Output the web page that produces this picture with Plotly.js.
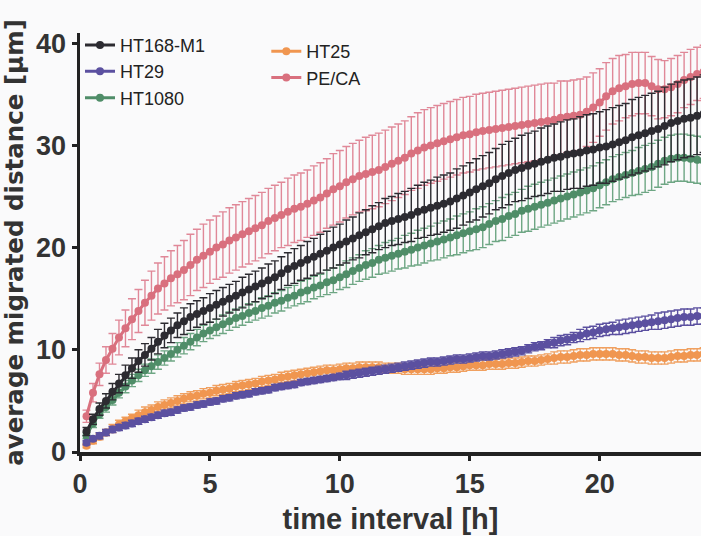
<!DOCTYPE html>
<html>
<head>
<meta charset="utf-8">
<script src="https://cdn.plot.ly/plotly-3.0.1.min.js"></script>
<style>html,body{margin:0;padding:0;background:#fafafb;}#chart{width:701px;height:536px;}</style>
</head>
<body>
<div id="chart"></div>
<script>
// time points [h]
const timeH = [
  0.25,0.5,0.75,1,1.25,1.5,1.75,2,
  2.25,2.5,2.75,3,3.25,3.5,3.75,4,
  4.25,4.5,4.75,5,5.25,5.5,5.75,6,
  6.25,6.5,6.75,7,7.25,7.5,7.75,8,
  8.25,8.5,8.75,9,9.25,9.5,9.75,10,
  10.25,10.5,10.75,11,11.25,11.5,11.75,12,
  12.25,12.5,12.75,13,13.25,13.5,13.75,14,
  14.25,14.5,14.75,15,15.25,15.5,15.75,16,
  16.25,16.5,16.75,17,17.25,17.5,17.75,18,
  18.25,18.5,18.75,19,19.25,19.5,19.75,20,
  20.25,20.5,20.75,21,21.25,21.5,21.75,22,
  22.25,22.5,22.75,23,23.25,23.5,23.75,24
];

const seriesNames = ["HT168-M1", "HT29", "HT1080", "HT25", "PE/CA"];

// PE/CA
const pecaMean = [
  3.5,5.8,7.6,9.0,10.1,11.2,12.1,13.0,
  13.8,14.6,15.3,16.0,16.5,17.0,17.4,17.8,
  18.3,18.8,19.2,19.6,20.0,20.3,20.7,21.0,
  21.3,21.6,21.9,22.2,22.6,22.9,23.2,23.5,
  23.8,24.0,24.3,24.6,24.9,25.3,25.7,26.0,
  26.4,26.7,27.0,27.2,27.4,27.6,27.9,28.2,
  28.5,28.8,29.2,29.5,29.8,30.0,30.2,30.4,
  30.6,30.8,31.0,31.1,31.3,31.4,31.5,31.6,
  31.7,31.8,31.9,32.0,32.1,32.2,32.3,32.4,
  32.5,32.7,32.8,32.9,33.0,33.3,33.7,34.2,
  34.8,35.3,35.6,35.8,36.0,36.1,36.1,35.8,
  35.5,35.5,35.7,36.0,36.4,36.7,37.0,37.2
];
const pecaErr = [
  0.6,0.9,1.1,1.3,1.5,1.7,1.8,2.0,
  2.1,2.2,2.4,2.5,2.6,2.7,2.8,2.9,
  3.0,3.0,3.1,3.1,3.1,3.2,3.2,3.2,
  3.2,3.2,3.2,3.2,3.2,3.2,3.2,3.3,
  3.3,3.3,3.3,3.4,3.4,3.4,3.5,3.5,
  3.5,3.5,3.5,3.6,3.6,3.6,3.6,3.6,
  3.6,3.6,3.6,3.7,3.7,3.7,3.7,3.7,
  3.7,3.7,3.7,3.7,3.7,3.7,3.7,3.7,
  3.7,3.7,3.7,3.7,3.7,3.7,3.7,3.7,
  3.6,3.6,3.5,3.5,3.5,3.4,3.4,3.3,
  3.3,3.2,3.2,3.1,3.1,3.0,3.0,2.9,
  2.9,2.8,2.8,2.8,2.7,2.7,2.6,2.6
];

// HT168-M1
const ht168Mean = [
  2.0,3.2,4.2,5.0,5.9,6.7,7.5,8.2,
  8.9,9.5,10.1,10.8,11.4,11.9,12.4,12.8,
  13.2,13.5,13.8,14.1,14.4,14.7,15.0,15.3,
  15.6,15.9,16.2,16.5,16.8,17.1,17.5,17.9,
  18.2,18.5,18.8,19.1,19.4,19.7,20.0,20.3,
  20.6,20.9,21.2,21.5,21.8,22.1,22.4,22.6,
  22.8,23.0,23.2,23.5,23.7,23.9,24.1,24.3,
  24.5,24.8,25.1,25.4,25.7,26.0,26.3,26.7,
  27.0,27.3,27.6,27.8,28.0,28.2,28.4,28.6,
  28.8,28.9,29.1,29.2,29.3,29.5,29.6,29.8,
  29.9,30.1,30.3,30.5,30.8,31.0,31.2,31.4,
  31.6,31.9,32.2,32.4,32.6,32.7,32.9,33.1
];
const ht168Err = [
  0.4,0.5,0.6,0.7,0.8,0.9,1.0,1.0,
  1.1,1.1,1.1,1.2,1.2,1.2,1.2,1.3,
  1.3,1.3,1.3,1.4,1.4,1.4,1.4,1.4,
  1.5,1.5,1.5,1.5,1.6,1.6,1.6,1.6,
  1.7,1.7,1.8,1.8,1.9,1.9,2.0,2.0,
  2.1,2.1,2.2,2.2,2.3,2.3,2.4,2.4,
  2.5,2.5,2.6,2.6,2.7,2.7,2.8,2.8,
  2.8,2.9,2.9,2.9,3.0,3.0,3.0,3.0,
  3.1,3.1,3.1,3.2,3.2,3.2,3.3,3.3,
  3.3,3.4,3.4,3.4,3.5,3.5,3.5,3.5,
  3.6,3.6,3.6,3.6,3.7,3.7,3.7,3.7,
  3.7,3.8,3.8,3.8,3.8,3.8,3.8,3.8
];

// HT1080
const ht1080Mean = [
  1.6,2.8,3.7,4.4,5.1,5.8,6.4,7.0,
  7.5,8.0,8.4,8.8,9.2,9.6,10.0,10.4,
  10.8,11.2,11.6,11.9,12.2,12.5,12.8,13.1,
  13.3,13.6,13.8,14.1,14.3,14.6,14.8,15.1,
  15.3,15.6,15.8,16.1,16.3,16.6,16.8,17.1,
  17.4,17.7,18.0,18.3,18.5,18.8,19.0,19.2,
  19.4,19.6,19.8,20.0,20.2,20.4,20.6,20.8,
  21.0,21.2,21.4,21.6,21.8,22.0,22.3,22.6,
  22.8,23.1,23.3,23.6,23.8,24.0,24.2,24.4,
  24.6,24.8,25.0,25.2,25.4,25.6,25.8,26.1,
  26.4,26.7,26.9,27.1,27.3,27.5,27.7,27.9,
  28.2,28.5,28.7,28.8,28.8,28.7,28.6,28.5
];
const ht1080Err = [
  0.3,0.4,0.4,0.5,0.5,0.5,0.6,0.6,
  0.6,0.6,0.7,0.7,0.7,0.7,0.7,0.8,
  0.8,0.8,0.8,0.8,0.8,0.9,0.9,0.9,
  0.9,0.9,0.9,1.0,1.0,1.0,1.0,1.0,
  1.0,1.1,1.1,1.1,1.1,1.2,1.2,1.2,
  1.3,1.3,1.3,1.4,1.4,1.4,1.5,1.5,
  1.5,1.6,1.6,1.7,1.7,1.7,1.8,1.8,
  1.8,1.9,1.9,1.9,2.0,2.0,2.0,2.0,
  2.1,2.1,2.1,2.1,2.2,2.2,2.2,2.2,
  2.2,2.2,2.2,2.2,2.2,2.2,2.2,2.2,
  2.2,2.2,2.2,2.2,2.2,2.3,2.3,2.3,
  2.3,2.3,2.3,2.3,2.3,2.3,2.3,2.3
];

// HT29
const ht29Mean = [
  0.9,1.3,1.6,1.9,2.2,2.4,2.6,2.8,
  3.0,3.2,3.4,3.6,3.8,3.9,4.1,4.3,
  4.4,4.6,4.7,4.9,5.0,5.2,5.3,5.5,
  5.6,5.7,5.9,6.0,6.1,6.3,6.4,6.5,
  6.6,6.8,6.9,7.0,7.1,7.2,7.3,7.4,
  7.5,7.6,7.7,7.8,7.9,8.0,8.1,8.2,
  8.3,8.4,8.5,8.6,8.7,8.8,8.8,8.9,
  9.0,9.1,9.1,9.2,9.3,9.4,9.4,9.5,
  9.6,9.7,9.8,9.9,10.1,10.3,10.4,10.6,
  10.7,10.9,11.0,11.2,11.4,11.6,11.7,11.9,
  12.0,12.1,12.2,12.3,12.4,12.5,12.6,12.7,
  12.8,12.9,13.0,13.1,13.2,13.2,13.3,13.3
];
const ht29Err = [
  0.2,0.2,0.3,0.3,0.3,0.3,0.3,0.3,
  0.3,0.3,0.3,0.3,0.3,0.3,0.3,0.3,
  0.3,0.3,0.3,0.3,0.3,0.3,0.3,0.3,
  0.3,0.3,0.3,0.3,0.3,0.3,0.3,0.3,
  0.3,0.3,0.3,0.3,0.3,0.3,0.3,0.3,
  0.4,0.4,0.4,0.4,0.4,0.4,0.4,0.4,
  0.4,0.4,0.4,0.4,0.4,0.4,0.4,0.4,
  0.4,0.4,0.4,0.4,0.4,0.4,0.4,0.4,
  0.4,0.4,0.4,0.4,0.4,0.4,0.4,0.4,
  0.5,0.5,0.5,0.5,0.6,0.6,0.6,0.6,
  0.6,0.6,0.7,0.7,0.7,0.7,0.7,0.7,
  0.8,0.8,0.8,0.8,0.8,0.8,0.8,0.8
];

// HT25
const ht25Mean = [
  0.6,1.1,1.5,1.9,2.3,2.7,3.0,3.3,
  3.6,3.9,4.1,4.4,4.6,4.8,5.0,5.2,
  5.4,5.5,5.7,5.8,6.0,6.1,6.2,6.4,
  6.5,6.6,6.7,6.9,7.0,7.1,7.3,7.4,
  7.5,7.6,7.7,7.8,7.9,8.0,8.0,8.1,
  8.2,8.2,8.3,8.3,8.3,8.3,8.2,8.2,
  8.2,8.1,8.1,8.1,8.1,8.1,8.2,8.2,
  8.3,8.3,8.4,8.5,8.5,8.5,8.6,8.6,
  8.6,8.7,8.7,8.8,8.9,8.9,9.0,9.1,
  9.2,9.3,9.3,9.4,9.5,9.5,9.6,9.6,
  9.6,9.6,9.5,9.5,9.4,9.3,9.3,9.2,
  9.2,9.2,9.3,9.4,9.4,9.5,9.5,9.6
];
const ht25Err = [
  0.2,0.3,0.3,0.3,0.4,0.4,0.4,0.4,
  0.5,0.5,0.5,0.5,0.5,0.5,0.5,0.5,
  0.5,0.5,0.5,0.5,0.5,0.5,0.5,0.5,
  0.5,0.5,0.5,0.5,0.5,0.5,0.5,0.5,
  0.5,0.5,0.5,0.5,0.5,0.5,0.5,0.5,
  0.5,0.5,0.5,0.5,0.5,0.5,0.5,0.5,
  0.5,0.5,0.5,0.5,0.5,0.5,0.5,0.5,
  0.5,0.5,0.5,0.5,0.5,0.5,0.5,0.5,
  0.5,0.5,0.5,0.5,0.5,0.5,0.5,0.5,
  0.6,0.6,0.6,0.6,0.6,0.6,0.6,0.6,
  0.6,0.6,0.6,0.6,0.6,0.6,0.6,0.6,
  0.6,0.6,0.6,0.6,0.6,0.6,0.6,0.6
];

const xTicks = [0, 5, 10, 15, 20];
const yTicks = [0, 10, 20, 30, 40];

const FONT = "Liberation Sans, Arial, sans-serif";

function mk(name, y, err, color, barColor, legendId, rank) {
  return {
    type: "scatter", mode: "lines+markers", name: name,
    x: timeH, y: y,
    line: {color: color, width: 3},
    marker: {color: color, size: 8, symbol: "circle"},
    error_y: {type: "data", array: err, visible: true, color: barColor, thickness: 1.4, width: 4},
    legend: legendId, legendrank: rank,
    cliponaxis: true
  };
}

const data = [
  mk(seriesNames[2], ht1080Mean, ht1080Err, "#4f8d68", "#6ea684", "legend", 3),
  mk(seriesNames[4], pecaMean, pecaErr, "#d9707e", "#e08898", "legend2", 2),
  mk(seriesNames[0], ht168Mean, ht168Err, "#2c2b31", "#2c2b31", "legend", 1),
  mk(seriesNames[3], ht25Mean, ht25Err, "#f09650", "#f0a060", "legend2", 1),
  mk(seriesNames[1], ht29Mean, ht29Err, "#5b50a0", "#5b50a0", "legend", 2)
];

const axisCommon = {
  showline: true, linewidth: 3.5, linecolor: "#222",
  ticks: "outside", ticklen: 5, tickwidth: 3, tickcolor: "#222",
  showgrid: false, zeroline: false,
  tickfont: {family: FONT, size: 27, color: "#333", weight: "bold"},
  fixedrange: true
};

const layout = {
  width: 701, height: 536,
  margin: {l: 80, r: 0, t: 33, b: 84},
  paper_bgcolor: "#fafafb", plot_bgcolor: "#fafafb",
  showlegend: true,
  xaxis: Object.assign({}, axisCommon, {
    range: [0, 23.9], tickvals: xTicks, ticktext: xTicks.map(String),
    title: {text: "time interval [h]", font: {family: FONT, size: 29, color: "#333", weight: "bold"}, standoff: 12}
  }),
  yaxis: Object.assign({}, axisCommon, {
    range: [0, 41], tickvals: yTicks, ticktext: yTicks.map(String),
    title: {text: "average migrated distance [µm]", font: {family: "DejaVu Sans, Liberation Sans, sans-serif", size: 24.5, color: "#333", weight: "bold"}, standoff: 8}
  }),
  legend: {
    x: 0.0, y: 1.015, xanchor: "left", yanchor: "top",
    bgcolor: "rgba(0,0,0,0)", itemwidth: 30, tracegroupgap: 0,
    font: {family: FONT, size: 18, color: "#222"}, traceorder: "normal"
  },
  legend2: {
    x: 0.30, y: 1.0, xanchor: "left", yanchor: "top",
    bgcolor: "rgba(0,0,0,0)", itemwidth: 30,
    font: {family: FONT, size: 18, color: "#222"}, traceorder: "normal"
  }
};

Plotly.newPlot("chart", data, layout, {displayModeBar: false, staticPlot: true});
</script>
</body>
</html>
